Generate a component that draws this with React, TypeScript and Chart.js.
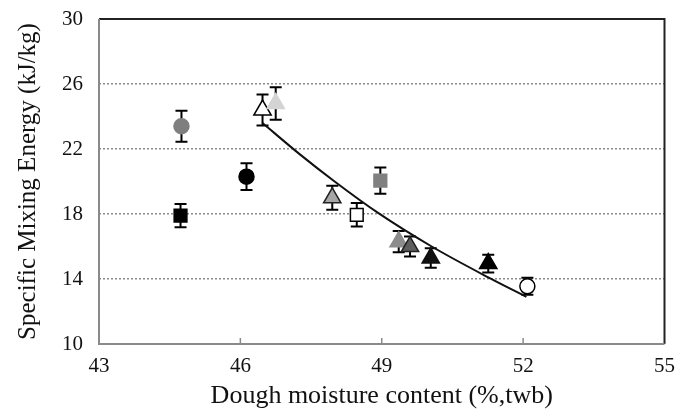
import React, { useEffect, useRef } from "react";
import { Chart, registerables } from "chart.js";

Chart.register(...registerables);

// Measured points
const moisture = [44.75, 44.73, 46.13, 46.47, 46.75, 47.95, 48.47, 48.97, 49.36, 49.6, 50.04, 51.26, 52.09];
const energy = [23.4, 17.9, 20.3, 24.4, 24.8, 19.0, 17.95, 20.05, 16.3, 16.0, 15.3, 14.95, 13.55];
const energyError = [0.95, 0.72, 0.82, 0.95, 1.0, 0.74, 0.72, 0.81, 0.65, 0.62, 0.6, 0.55, 0.52];

// Fitted curve
const fitMoisture = [46.47, 47.25, 48.0, 48.93, 50.06, 51.26, 52.07];
const fitEnergy = [23.6, 21.7, 20.0, 18.05, 16.0, 14.1, 12.9];

// Axis ticks
const xTicks = [43, 46, 49, 52, 55];
const yTicks = [10, 14, 18, 22, 26, 30];

// Marker styles (per point)
const markerShapes = ["circle", "rect", "circle", "triangle", "triangle", "triangle", "rect", "rect", "triangle", "triangle", "triangle", "triangle", "circle"];
const markerFill = ["#7f7f7f", "#000000", "#000000", "#ffffff", "#d4d4d4", "#a6a6a6", "#ffffff", "#808080", "#8c8c8c", "#5e5e5e", "#111111", "#000000", "#ffffff"];
const markerBorder = ["#7f7f7f", "#000000", "#000000", "#000000", "#d4d4d4", "#222222", "#000000", "#808080", "#8c8c8c", "#222222", "#111111", "#000000", "#000000"];
const markerRadius = [7.5, 9, 7.5, 10, 10, 10, 9, 9, 10, 10, 10, 10, 7.5];

const FONT = "'Liberation Serif', 'Times New Roman', serif";

const chartFrame = {
  id: "chartFrame",
  beforeDatasetsDraw(chart: any) {
    const { ctx, scales } = chart;
    const x = scales.x;
    const y = scales.y;
    ctx.save();
    ctx.strokeStyle = "#000";
    ctx.lineWidth = 2;
    for (let i = 0; i < moisture.length; i++) {
      const px = x.getPixelForValue(moisture[i]);
      const top = y.getPixelForValue(energy[i] + energyError[i]);
      const bot = y.getPixelForValue(energy[i] - energyError[i]);
      ctx.beginPath();
      ctx.moveTo(px, top);
      ctx.lineTo(px, bot);
      ctx.moveTo(px - 6, top);
      ctx.lineTo(px + 6, top);
      ctx.moveTo(px - 6, bot);
      ctx.lineTo(px + 6, bot);
      ctx.stroke();
    }
    ctx.restore();
  },
  afterDraw(chart: any) {
    const { ctx, chartArea, scales } = chart;
    const { left, right, top, bottom } = chartArea;
    ctx.save();
    ctx.strokeStyle = "#222";
    ctx.lineWidth = 2;
    ctx.beginPath();
    ctx.moveTo(left, top);
    ctx.lineTo(right, top);
    ctx.lineTo(right, bottom);
    ctx.stroke();
    ctx.strokeStyle = "#8a8a8a";
    ctx.beginPath();
    ctx.moveTo(left, top);
    ctx.lineTo(left, bottom);
    ctx.lineTo(right, bottom);
    ctx.stroke();
    ctx.lineWidth = 1.5;
    for (const v of xTicks) {
      const px = scales.x.getPixelForValue(v);
      if (px <= left + 1 || px >= right - 1) continue;
      ctx.beginPath();
      ctx.moveTo(px, bottom);
      ctx.lineTo(px, bottom - 6);
      ctx.stroke();
    }
    ctx.restore();
  },
};

export default function App() {
  const ref = useRef<HTMLCanvasElement | null>(null);

  useEffect(() => {
    document.body.style.margin = "0";
    const canvas = ref.current;
    if (!canvas) return;
    const chart = new Chart(canvas, {
      type: "scatter",
      data: {
        datasets: [
          {
            type: "line",
            label: "fit",
            data: fitMoisture.map((m, i) => ({ x: m, y: fitEnergy[i] })),
            borderColor: "#111",
            borderWidth: 2,
            pointRadius: 0,
            cubicInterpolationMode: "monotone",
            fill: false,
            order: 2,
          } as any,
          {
            label: "data",
            data: moisture.map((m, i) => ({ x: m, y: energy[i] })),
            pointStyle: markerShapes as any,
            pointRadius: markerRadius,
            pointHoverRadius: markerRadius,
            backgroundColor: markerFill,
            borderColor: markerBorder,
            borderWidth: 1.5,
            order: 1,
          },
        ],
      },
      options: {
        responsive: false,
        animation: false,
        layout: { padding: { top: 19, right: 9, left: 0, bottom: 0 } },
        plugins: { legend: { display: false }, tooltip: { enabled: false } },
        scales: {
          x: {
            type: "linear",
            min: 43,
            max: 55,
            afterBuildTicks: (s: any) => {
              s.ticks = xTicks.map((v) => ({ value: v }));
            },
            afterFit: (s: any) => {
              s.height = 66;
              s.paddingLeft = 0;
              s.paddingRight = 0;
            },
            border: { display: false },
            grid: { display: false, drawTicks: false },
            ticks: {
              padding: 10,
              color: "#111",
              font: { family: FONT, size: 21 },
              maxRotation: 0,
            },
            title: {
              display: true,
              text: "Dough moisture content (%,twb)",
              color: "#111",
              font: { family: FONT, size: 26, lineHeight: 1 },
              padding: { top: 0, bottom: 1 },
            },
          },
          y: {
            type: "linear",
            min: 10,
            max: 30,
            afterBuildTicks: (s: any) => {
              s.ticks = yTicks.map((v) => ({ value: v }));
            },
            afterFit: (s: any) => {
              s.width = 99;
              s.paddingTop = 0;
              s.paddingBottom = 0;
            },
            border: { display: false, dash: [2, 2] },
            grid: {
              drawTicks: false,
              color: (c: any) => (c.tick && (c.tick.value === 10 || c.tick.value === 30) ? "rgba(0,0,0,0)" : "#8a8a8a"),
              lineWidth: 1.5,
            },
            ticks: {
              padding: 16,
              color: "#111",
              font: { family: FONT, size: 21 },
            },
            title: {
              display: true,
              text: "Specific Mixing Energy (kJ/kg)",
              color: "#111",
              font: { family: FONT, size: 25, lineHeight: 1.2 },
              padding: { top: 13, bottom: 0 },
            },
          },
        },
      },
      plugins: [chartFrame],
    });
    return () => chart.destroy();
  }, []);

  return (
    <div style={{ position: "absolute", left: 0, top: 0, width: 676, height: 410, background: "#fff" }}>
      <canvas ref={ref} width={676} height={410} style={{ width: 676, height: 410 }} />
    </div>
  );
}
